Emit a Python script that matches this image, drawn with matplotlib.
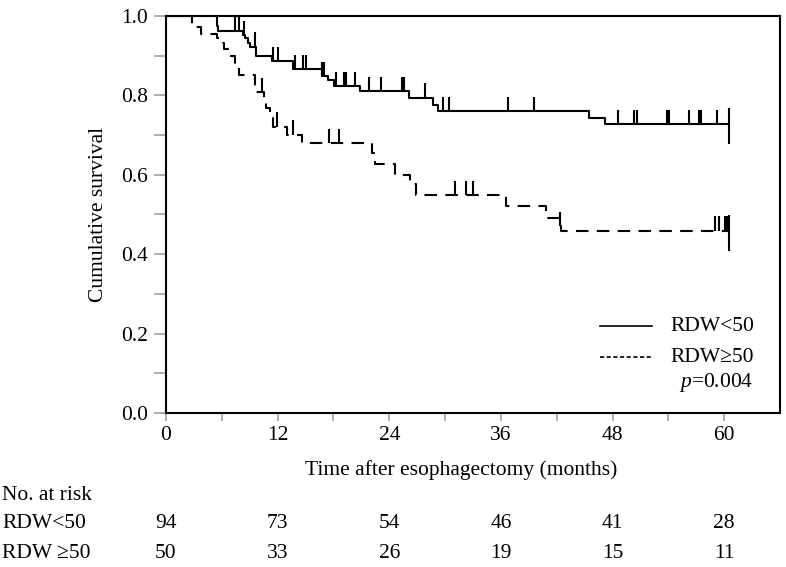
import numpy as np
import matplotlib
matplotlib.use("Agg")
import matplotlib.pyplot as plt

plt.rcParams['font.family'] = ['Liberation Serif', 'DejaVu Serif']
plt.rcParams['mathtext.fontset'] = 'custom'
plt.rcParams['mathtext.rm'] = 'Liberation Serif'
plt.rcParams['mathtext.it'] = 'Liberation Serif:italic'

FS = 15.5

# RDW<50 : step times (months) and survival after each step
low_t = [0, 5.5, 5.6, 8.3, 8.5, 8.8, 9.0, 9.7, 11.4, 13.7, 16.8, 17.4, 18.1,
         20.9, 26.1, 28.7, 29.2, 45.5, 47.2]
low_s = [1.0, 0.975, 0.962, 0.952, 0.944, 0.931, 0.923, 0.899, 0.887, 0.867,
         0.849, 0.839, 0.824, 0.810, 0.794, 0.776, 0.761, 0.744, 0.728]
low_cens = [7.4, 7.8, 8.4, 9.6, 11.5, 12.0, 13.9, 14.7, 15.1, 16.8, 17.0, 18.3,
            19.1, 19.3, 20.3, 21.8, 23.1, 25.4, 25.6, 27.8, 29.8, 30.4, 36.8,
            39.6, 48.6, 50.3, 50.6, 53.8, 54.1, 56.2, 57.3, 57.5, 59.2]

# RDW>=50
high_t = [0, 2.8, 3.8, 5.5, 5.7, 6.2, 6.8, 7.4, 7.9, 9.6, 10.5, 10.8, 11.2,
          11.5, 13.0, 14.6, 22.1, 22.5, 24.6, 26.2, 26.9, 36.6, 40.8, 42.3, 42.5]
high_s = [1.0, 0.973, 0.955, 0.945, 0.931, 0.918, 0.898, 0.872, 0.851, 0.809,
          0.790, 0.768, 0.742, 0.721, 0.701, 0.679, 0.654, 0.627, 0.600, 0.578,
          0.549, 0.521, 0.490, 0.470, 0.459]
high_cens = [10.3, 11.9, 13.6, 17.5, 18.6, 31.1, 32.3, 33.0, 42.4, 59.0, 59.4,
             60.1, 60.3]

end_time = 60.5

risk_times = [0, 12, 24, 36, 48, 60]
risk_low = [94, 73, 54, 46, 41, 28]
risk_high = [50, 33, 26, 19, 15, 11]


def surv_at(t, s, c):
    idx = np.searchsorted(t, c, side='right') - 1
    return np.array(s)[idx]


fig = plt.figure(figsize=(7.86, 5.67), dpi=100)
ax = fig.add_axes([166 / 786, 1 - 413 / 567, 614 / 786, 397 / 567])

lw = 1.5
for t, s, cens, ls in [(low_t, low_s, low_cens, '-'),
                       (high_t, high_s, high_cens, (0, (6, 4)))]:
    x = list(t) + [end_time]
    y = list(s) + [s[-1]]
    ax.step(x, y, where='post', color='black', lw=lw, linestyle=ls)
    cy = surv_at(t, s, cens)
    ax.vlines(cens, cy, cy + 0.036, color='black', lw=lw)
    ax.vlines(end_time, s[-1] - 0.05, s[-1] + 0.04, color='black', lw=lw)

ax.set_xlim(0, 66)
ax.set_ylim(0, 1.0)
ax.set_xticks(risk_times)
ax.set_xticks(np.arange(6, 60, 12), minor=True)
ax.set_yticks(np.arange(0, 1.01, 0.2))
ax.set_yticks(np.arange(0.1, 1.0, 0.2), minor=True)
ax.set_yticklabels(['%.1f' % v for v in np.arange(0, 1.01, 0.2)])
ax.tick_params(axis='x', which='both', length=6, width=1.2, color='#a0a0a0',
               labelsize=FS, pad=3)
ax.tick_params(axis='y', which='both', length=9, width=1.2, color='#a0a0a0',
               labelsize=FS, pad=4)
for sp in ax.spines.values():
    sp.set_linewidth(1.5)

ax.set_ylabel('Cumulative survival', fontsize=FS)
ax.yaxis.set_label_coords(-0.094, 0.5)
ax.set_xlabel('Time after esophagectomy (months)', fontsize=FS)
ax.xaxis.set_label_coords(0.48, -0.144)
ax.xaxis.label.set_verticalalignment('center')

# legend drawn by hand
ax.plot([0.707, 0.792], [0.219, 0.219], transform=ax.transAxes,
        color='black', lw=1.2)
ax.plot([0.707, 0.792], [0.141, 0.141], transform=ax.transAxes,
        color='black', lw=1.2, linestyle=(0, (2.5, 1.5)))
ax.text(0.821, 0.219, 'RDW<50', transform=ax.transAxes, fontsize=FS,
        va='center', ha='left')
ax.text(0.821, 0.141, 'RDW\u226550', transform=ax.transAxes, fontsize=FS,
        va='center', ha='left')
ax.text(0.956, 0.078, r'$\it{p}$=0.004', transform=ax.transAxes, fontsize=FS,
        va='center', ha='right')

# number at risk table
fig.text(2 / 786, 1 - 495 / 567, 'No. at risk', fontsize=FS, va='center')
fig.text(2 / 786, 1 - 523 / 567, 'RDW<50', fontsize=FS, va='center')
fig.text(2 / 786, 1 - 553 / 567, 'RDW \u226550', fontsize=FS, va='center')
for xt, a, b in zip(risk_times, risk_low, risk_high):
    ax.text(xt, (413 - 523) / 397, str(a), transform=ax.get_xaxis_transform(),
            fontsize=FS, ha='center', va='center', clip_on=False)
    ax.text(xt, (413 - 553) / 397, str(b), transform=ax.get_xaxis_transform(),
            fontsize=FS, ha='center', va='center', clip_on=False)

fig.savefig('out.png', dpi=100)
